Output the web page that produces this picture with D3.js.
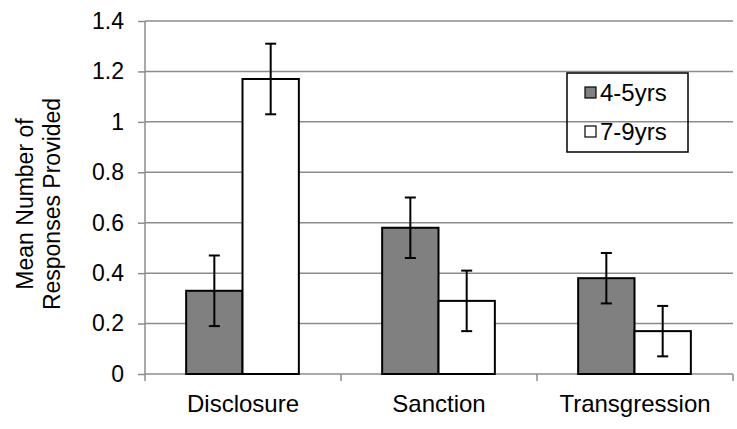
<!DOCTYPE html>
<html><head><meta charset="utf-8">
<script src="https://cdn.jsdelivr.net/npm/d3@7"></script>
<style>html,body{margin:0;padding:0;background:#fff;}svg{display:block;font-family:"Liberation Sans",Arial,sans-serif;}</style>
</head><body>
<svg id="chart" width="737" height="429"></svg>
<script>
const categories = ["Disclosure", "Sanction", "Transgression"];
const seriesNames = ["4-5yrs", "7-9yrs"];
const values45 = [0.33, 0.58, 0.38];
const values79 = [1.17, 0.29, 0.17];
const err45 = [0.14, 0.12, 0.10];
const err79 = [0.14, 0.12, 0.10];
const yTicks = [0, 0.2, 0.4, 0.6, 0.8, 1, 1.2, 1.4];
const colors = ["#808080", "#ffffff"];

const svg = d3.select("#chart");
const mLeft = 145, mRight = 733, mTop = 21, mBottom = 374;
const y = d3.scaleLinear().domain([0, 1.4]).range([mBottom, mTop]);
const x0 = d3.scaleBand().domain(categories).range([mLeft, mRight]).padding(0);
const bw = x0.bandwidth();
const x1 = d3.scaleBand().domain(seriesNames).range([bw * 0.21, bw * 0.785]).padding(0);

const gridCol = "#8c8c8c";
// gridlines
svg.append("g").selectAll("line").data(yTicks.slice(1)).join("line")
  .attr("x1", mLeft).attr("x2", mRight).attr("y1", d => y(d)).attr("y2", d => y(d))
  .attr("stroke", gridCol).attr("stroke-width", 1.5);

// y axis
const yAxis = svg.append("g").attr("transform", `translate(${mLeft},0)`)
  .call(d3.axisLeft(y).tickValues(yTicks).tickSize(7).tickPadding(14).tickFormat(d => d3.format("")(d)));
yAxis.select(".domain").attr("stroke", gridCol).attr("stroke-width", 1.5).attr("d", `M0,${mTop}V${mBottom}`);
yAxis.selectAll(".tick line").attr("stroke", gridCol).attr("stroke-width", 1.5);
yAxis.selectAll(".tick text").attr("font-size", 23).attr("fill", "#000").attr("font-family", "Liberation Sans, Arial, sans-serif");

// x axis
const xAxis = svg.append("g").attr("transform", `translate(0,${mBottom})`);
xAxis.append("line").attr("x1", mLeft).attr("x2", mRight).attr("y1", 0).attr("y2", 0).attr("stroke", gridCol).attr("stroke-width", 1.5);
const bounds = [mLeft].concat(categories.map(c => x0(c) + bw));
xAxis.selectAll("line.t").data(bounds).join("line").attr("class", "t")
  .attr("x1", d => d).attr("x2", d => d).attr("y1", 0).attr("y2", 7)
  .attr("stroke", gridCol).attr("stroke-width", 1.5);
xAxis.selectAll("text").data(categories).join("text")
  .attr("x", d => x0(d) + bw / 2).attr("y", 38).attr("text-anchor", "middle")
  .attr("font-size", 24).attr("fill", "#000").text(d => d);

// bars
const data = categories.map((c, i) => ({cat: c, vals: [
  {s: seriesNames[0], v: values45[i], e: err45[i], col: colors[0]},
  {s: seriesNames[1], v: values79[i], e: err79[i], col: colors[1]}
]}));
const groups = svg.append("g").selectAll("g").data(data).join("g")
  .attr("transform", d => `translate(${x0(d.cat)},0)`);
groups.selectAll("rect").data(d => d.vals).join("rect")
  .attr("x", d => x1(d.s)).attr("width", x1.bandwidth())
  .attr("y", d => y(d.v)).attr("height", d => y(0) - y(d.v))
  .attr("fill", d => d.col).attr("stroke", "#000").attr("stroke-width", 2);
// error bars
const eb = groups.selectAll("g.err").data(d => d.vals).join("g").attr("class", "err");
eb.append("line").attr("x1", d => x1(d.s) + x1.bandwidth() / 2).attr("x2", d => x1(d.s) + x1.bandwidth() / 2)
  .attr("y1", d => y(d.v + d.e)).attr("y2", d => y(d.v - d.e)).attr("stroke", "#000").attr("stroke-width", 2);
[1, -1].forEach(sg => {
  eb.append("line").attr("x1", d => x1(d.s) + x1.bandwidth() / 2 - 5.5).attr("x2", d => x1(d.s) + x1.bandwidth() / 2 + 5.5)
    .attr("y1", d => y(d.v + sg * d.e)).attr("y2", d => y(d.v + sg * d.e)).attr("stroke", "#000").attr("stroke-width", 2);
});

// y axis title
const yt = svg.append("text").attr("transform", "translate(0,204) rotate(-90)").attr("text-anchor", "middle")
  .attr("font-size", 23).attr("fill", "#000");
yt.append("tspan").attr("x", 0).attr("y", 33).text("Mean Number of");
yt.append("tspan").attr("x", 0).attr("y", 60).text("Responses Provided");

// legend
const lg = svg.append("g");
lg.append("rect").attr("x", 567).attr("y", 73).attr("width", 121).attr("height", 79)
  .attr("fill", "none").attr("stroke", "#000").attr("stroke-width", 1.5);
const li = lg.selectAll("g").data(seriesNames).join("g")
  .attr("transform", (d, i) => `translate(585,${87 + i * 39})`);
li.append("rect").attr("width", 11).attr("height", 11).attr("fill", (d, i) => colors[i]).attr("stroke", "#000").attr("stroke-width", 1.2);
li.append("text").attr("x", 15).attr("y", 14).attr("font-size", 24).attr("fill", "#000").text(d => d);
</script>
</body></html>
